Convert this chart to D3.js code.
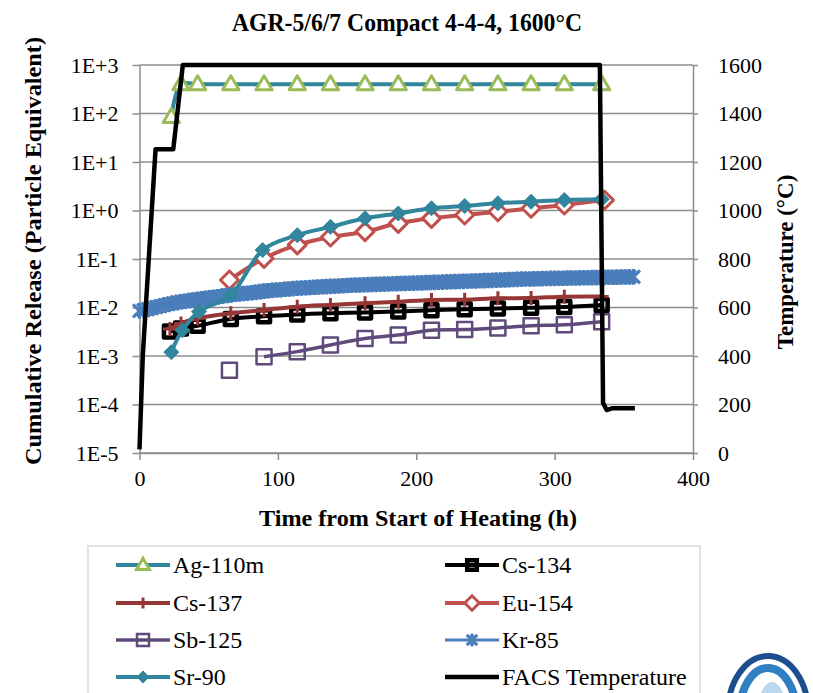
<!DOCTYPE html>
<html>
<head>
<meta charset="utf-8">
<script src="https://cdn.jsdelivr.net/npm/d3@7"></script>
<style>
  body { margin: 0; background: #fff; }
  svg text { font-family: "Liberation Serif", "Times New Roman", serif; fill: #000; }
</style>
</head>
<body>
<svg id="chart" width="813" height="693"></svg>
<script>
// ---------------- data ----------------
const agTime = [23, 30, 42, 66, 90, 114, 138, 163, 187, 211, 235, 259, 283, 307, 334];
const agRelease = [85, 400, 400, 400, 400, 400, 400, 400, 400, 400, 400, 400, 400, 400, 400];

const cs134Time = [22, 30, 42, 66, 90, 114, 138, 163, 187, 211, 235, 259, 283, 307, 334];
const cs134Release = [0.0032, 0.0037, 0.0042, 0.0058, 0.0066, 0.0072, 0.0076, 0.0079, 0.0083, 0.0088, 0.0092, 0.0095, 0.0099, 0.0102, 0.0112];

const cs137Time = [22, 30, 42, 66, 90, 114, 138, 163, 187, 211, 235, 259, 283, 307, 334];
const cs137Release = [0.0036, 0.0047, 0.0060, 0.0076, 0.0089, 0.0104, 0.0113, 0.0122, 0.0132, 0.0143, 0.0145, 0.0155, 0.0157, 0.0167, 0.0168];

const eu154Time = [65, 90, 114, 138, 163, 187, 211, 235, 259, 283, 307, 336];
const eu154Release = [0.037, 0.103, 0.195, 0.284, 0.366, 0.544, 0.69, 0.81, 0.94, 1.11, 1.30, 1.64];

// first Sb-125 reading stands alone (no line to it)
const sb125Time = [65, 90, 114, 138, 163, 187, 211, 235, 259, 283, 307, 334];
const sb125Release = [0.00051, 0.00097, 0.00123, 0.00169, 0.0023, 0.0027, 0.0034, 0.0035, 0.0038, 0.0042, 0.0044, 0.0051];

const kr85Time = [0, 3, 6, 9, 12, 15, 18, 21, 24, 27, 30, 33, 36, 39, 42, 45, 48, 51, 54, 57,
  60, 63, 66, 69, 72, 75, 78, 81, 84, 87, 90, 93, 96, 99, 102, 105, 108, 111, 114, 117,
  120, 123, 126, 129, 132, 135, 138, 141, 144, 147, 150, 153, 156, 159, 162, 165, 168, 171, 174, 177,
  180, 183, 186, 189, 192, 195, 198, 201, 204, 207, 210, 213, 216, 219, 222, 225, 228, 231, 234, 237,
  240, 243, 246, 249, 252, 255, 258, 261, 264, 267, 270, 273, 276, 279, 282, 285, 288, 291, 294, 297,
  300, 303, 306, 309, 312, 315, 318, 321, 324, 327, 330, 333, 336, 339, 342, 345, 348, 351, 354, 357];
const kr85Release = [0.0085, 0.0088, 0.0093, 0.0097, 0.0102, 0.0107, 0.0112, 0.0117, 0.0122, 0.0127,
  0.0131, 0.0135, 0.0139, 0.0143, 0.0147, 0.0151, 0.0155, 0.0159, 0.0163, 0.0167,
  0.0172, 0.0177, 0.0182, 0.0187, 0.0191, 0.0194, 0.0197, 0.0201, 0.0206, 0.0212,
  0.0218, 0.0222, 0.0226, 0.0229, 0.0233, 0.0237, 0.0241, 0.0245, 0.0249, 0.0252,
  0.0255, 0.0258, 0.0261, 0.0264, 0.0267, 0.0270, 0.0272, 0.0275, 0.0278, 0.0281,
  0.0284, 0.0287, 0.0290, 0.0292, 0.0294, 0.0296, 0.0298, 0.0300, 0.0302, 0.0304,
  0.0306, 0.0308, 0.0310, 0.0312, 0.0314, 0.0316, 0.0318, 0.0320, 0.0322, 0.0325,
  0.0327, 0.0329, 0.0332, 0.0334, 0.0337, 0.0339, 0.0341, 0.0344, 0.0346, 0.0348,
  0.0351, 0.0353, 0.0356, 0.0358, 0.0361, 0.0363, 0.0366, 0.0369, 0.0372, 0.0375,
  0.0378, 0.0381, 0.0384, 0.0386, 0.0388, 0.0390, 0.0392, 0.0394, 0.0396, 0.0398,
  0.0399, 0.0401, 0.0402, 0.0404, 0.0405, 0.0407, 0.0408, 0.0410, 0.0411, 0.0413,
  0.0414, 0.0416, 0.0418, 0.0419, 0.0421, 0.0422, 0.0424, 0.0425, 0.0427, 0.0428];

const sr90Time = [23, 31, 43, 66, 89, 114, 138, 163, 187, 211, 235, 259, 283, 307, 334];
const sr90Release = [0.0012, 0.0034, 0.0082, 0.018, 0.153, 0.31, 0.46, 0.69, 0.87, 1.11, 1.24, 1.41, 1.52, 1.64, 1.70];

const facsTime = [0, 2.4, 11.6, 24.4, 31.3, 332.7, 335, 337.6, 342, 358];
const facsTemp = [15, 404, 1253, 1253, 1600, 1600, 206, 177, 185, 185];

const yTicks = [1e-5, 1e-4, 1e-3, 1e-2, 1e-1, 1e0, 1e1, 1e2, 1e3];
const tempTicks = [0, 200, 400, 600, 800, 1000, 1200, 1400, 1600];
const timeTicks = [0, 100, 200, 300, 400];

// ---------------- layout ----------------
const svg = d3.select("#chart");
const plotL = 139.5, plotR = 693, plotT = 65, plotB = 453;
const gridColor = "#8c8c8c";

const x = d3.scaleLinear().domain([0, 400]).range([plotL, plotR]);
const y = d3.scaleLog().domain([1e-5, 1e3]).range([plotB, plotT]);
const yT = d3.scaleLinear().domain([0, 1600]).range([plotB, plotT]);

// horizontal gridlines
svg.append("g").selectAll("line")
  .data(yTicks)
  .enter().append("line")
  .attr("x1", plotL).attr("x2", plotR)
  .attr("y1", d => y(d)).attr("y2", d => y(d))
  .attr("stroke", gridColor).attr("stroke-width", 1.5);

function styleAxis(g) {
  g.attr("font-family", null);
  g.select(".domain").attr("stroke", gridColor).attr("stroke-width", 1.5);
  g.selectAll(".tick line").attr("stroke", gridColor).attr("stroke-width", 1.5);
  g.selectAll("text").attr("font-size", 22).attr("fill", "#000");
}

const expFmt = d => {
  const e = Math.round(Math.log10(d));
  return "1E" + (e >= 0 ? "+" : "") + e;
};

svg.append("g")
  .attr("transform", `translate(${plotL},0)`)
  .call(d3.axisLeft(y).tickValues(yTicks).tickFormat(expFmt).tickSize(7).tickSizeOuter(0).tickPadding(14))
  .call(styleAxis);

svg.append("g")
  .attr("transform", `translate(${plotR},0)`)
  .call(d3.axisRight(yT).tickValues(tempTicks).tickFormat(d3.format("d")).tickSize(5).tickSizeOuter(0).tickPadding(20))
  .call(styleAxis);

svg.append("g")
  .attr("transform", `translate(0,${plotB})`)
  .call(d3.axisBottom(x).tickValues(timeTicks).tickSize(7).tickSizeOuter(0).tickPadding(10))
  .call(styleAxis);

// ---------------- titles ----------------
svg.append("text")
  .attr("x", 407).attr("y", 31)
  .attr("text-anchor", "middle")
  .attr("font-size", 26).attr("font-weight", "bold")
  .attr("textLength", 350).attr("lengthAdjust", "spacingAndGlyphs")
  .text("AGR-5/6/7 Compact 4-4-4, 1600°C");

svg.append("text")
  .attr("x", 418).attr("y", 526)
  .attr("text-anchor", "middle")
  .attr("font-size", 23).attr("font-weight", "bold")
  .attr("textLength", 318).attr("lengthAdjust", "spacingAndGlyphs")
  .text("Time from Start of Heating (h)");

svg.append("text")
  .attr("transform", "translate(41,251) rotate(-90)")
  .attr("text-anchor", "middle")
  .attr("font-size", 23).attr("font-weight", "bold")
  .attr("textLength", 428).attr("lengthAdjust", "spacingAndGlyphs")
  .text("Cumulative Release (Particle  Equivalent)");

svg.append("text")
  .attr("transform", "translate(793,262) rotate(-90)")
  .attr("text-anchor", "middle")
  .attr("font-size", 23).attr("font-weight", "bold")
  .text("Temperature (°C)");

// ---------------- marker shapes ----------------
const shapes = {
  triangle: r => `M0,${-r}L${r * 0.95},${r * 0.65}L${-r * 0.95},${r * 0.65}Z`,
  square: r => `M${-r},${-r}H${r}V${r}H${-r}Z`,
  diamond: r => `M0,${-r}L${r},0L0,${r}L${-r},0Z`,
  plus: r => `M${-r},0H${r}M0,${-r}V${r}`,
  star: r => `M${-r},${-r}L${r},${r}M${-r},${r}L${r},${-r}M0,${-r * 1.2}V${r * 1.2}`
};

const series = [
  { name: "Ag-110m", t: agTime, v: agRelease, line: "#31859C", lw: 4, shape: "triangle", r: 8.5, mStroke: "#9BBB59", mFill: "#fff", mw: 3 },
  { name: "Cs-134", t: cs134Time, v: cs134Release, line: "#000", lw: 4, shape: "square", r: 6, mStroke: "#000", mFill: "none", mw: 4.5 },
  { name: "Cs-137", t: cs137Time, v: cs137Release, line: "#953735", lw: 4, shape: "plus", r: 7, mStroke: "#953735", mFill: "none", mw: 3 },
  { name: "Eu-154", t: eu154Time, v: eu154Release, line: "#C0504D", lw: 4, shape: "diamond", r: 9, mStroke: "#C0504D", mFill: "#fff", mw: 3 },
  { name: "Sb-125", t: sb125Time, v: sb125Release, line: "#604A7B", lw: 3.5, shape: "square", r: 7.5, mStroke: "#604A7B", mFill: "none", mw: 2.5, lineFrom: 1 },
  { name: "Kr-85", t: kr85Time, v: kr85Release, line: null, lw: 3, shape: "star", r: 6.5, mStroke: "#4A7EBB", mFill: "none", mw: 3.2 },
  { name: "Sr-90", t: sr90Time, v: sr90Release, line: "#31859C", lw: 4, shape: "diamond", r: 7.5, mStroke: "#31859C", mFill: "#31859C", mw: 1 }
];

const smooth = d3.line().curve(d3.curveCatmullRom.alpha(0.5));

series.forEach(s => {
  const pts = s.t.map((t, i) => [x(t), y(s.v[i])]);
  const g = svg.append("g");
  if (s.line) {
    g.append("path")
      .attr("d", smooth(pts.slice(s.lineFrom || 0)))
      .attr("fill", "none")
      .attr("stroke", s.line)
      .attr("stroke-width", s.lw)
      .attr("stroke-linejoin", "round");
  }
  g.selectAll("path.m")
    .data(pts)
    .enter().append("path")
    .attr("class", "m")
    .attr("transform", d => `translate(${d[0]},${d[1]})`)
    .attr("d", shapes[s.shape](s.r))
    .attr("fill", s.mFill)
    .attr("stroke", s.mStroke)
    .attr("stroke-width", s.mw)
    .attr("stroke-linejoin", "round");
});

// FACS temperature on the right axis
svg.append("path")
  .attr("d", d3.line()(facsTime.map((t, i) => [x(t), yT(facsTemp[i])])))
  .attr("fill", "none")
  .attr("stroke", "#000")
  .attr("stroke-width", 4.5)
  .attr("stroke-linejoin", "round");

// ---------------- legend ----------------
svg.append("rect")
  .attr("x", 88).attr("y", 546)
  .attr("width", 612).attr("height", 160)
  .attr("fill", "#fff")
  .attr("stroke", "#d9d9d9").attr("stroke-width", 1.5);

const legendItems = series.concat([{ name: "FACS Temperature", line: "#000", lw: 4.5, shape: null }]);
const colX = [116, 445], rowY = [565, 603, 640, 677];

legendItems.forEach((s, i) => {
  const lx = colX[i % 2], ly = rowY[Math.floor(i / 2)];
  const g = svg.append("g").attr("transform", `translate(${lx},${ly})`);
  g.append("line")
    .attr("x1", 0).attr("x2", 54)
    .attr("stroke", s.line || s.mStroke)
    .attr("stroke-width", s.lw);
  if (s.shape) {
    g.append("path")
      .attr("transform", "translate(27,0)")
      .attr("d", shapes[s.shape](s.r * 0.8))
      .attr("fill", s.mFill)
      .attr("stroke", s.mStroke)
      .attr("stroke-width", s.mw);
  }
  g.append("text")
    .attr("x", 57).attr("y", 8)
    .attr("font-size", 24)
    .text(s.name);
});

// logo fragment, bottom right
const logo = svg.append("g").attr("transform", "translate(768,712)");
logo.append("ellipse").attr("rx", 40).attr("ry", 56).attr("fill", "none").attr("stroke", "#1d4f8f").attr("stroke-width", 6);
logo.append("ellipse").attr("rx", 28).attr("ry", 44).attr("fill", "none").attr("stroke", "#2f7fc1").attr("stroke-width", 8);
logo.append("ellipse").attr("cx", 4).attr("rx", 14).attr("ry", 30).attr("fill", "#bcd8ee");
</script>
</body>
</html>
